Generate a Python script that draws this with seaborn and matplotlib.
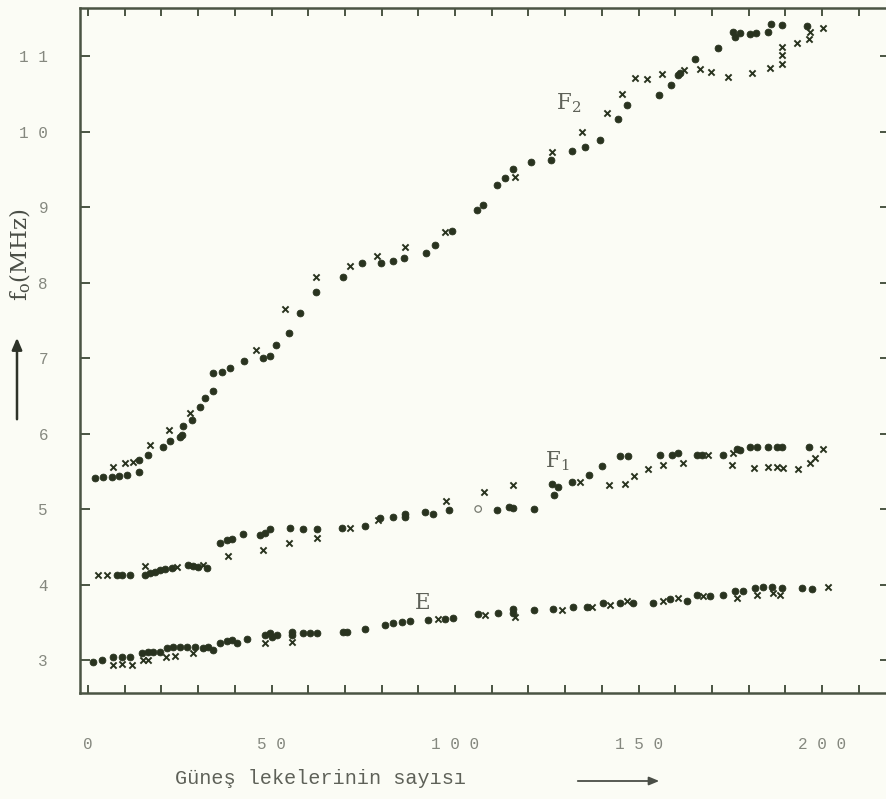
import numpy as np
import pandas as pd
import matplotlib
matplotlib.use("Agg")
import matplotlib.pyplot as plt
import seaborn as sns

# ---------------- data ----------------
# F2 layer
f2_dot_x = [2, 4, 6.5, 8.5, 10.5, 14, 14, 16.3, 20.4, 22.3, 25, 25.5, 26, 28.3, 30.5, 32, 34,
            34, 36.5, 38.7, 42.5, 47.7, 49.6, 51.2, 54.8, 57.8, 62, 69.5, 74.7, 79.8, 83.1, 86.1,
            92.1, 94.6, 99.2, 106, 107.6, 111.4, 113.6, 115.8, 120.7, 126.2, 131.9, 135.4, 139.5,
            144.4, 146.9, 155.6, 158.9, 160.8, 161.3, 165.4, 171.7, 175.7, 176.3, 177.7, 180.4,
            182, 185.3, 186.1, 189.1, 196]
f2_dot_y = [5.41, 5.42, 5.43, 5.44, 5.45, 5.65, 5.49, 5.72, 5.82, 5.90, 5.95, 5.98, 6.10, 6.18,
            6.35, 6.47, 6.56, 6.80, 6.81, 6.87, 6.96, 7.00, 7.03, 7.17, 7.33, 7.60, 7.87, 8.07,
            8.26, 8.26, 8.28, 8.32, 8.39, 8.50, 8.68, 8.96, 9.03, 9.29, 9.38, 9.50, 9.60, 9.62,
            9.74, 9.80, 9.89, 10.17, 10.35, 10.48, 10.62, 10.75, 10.77, 10.96, 11.10, 11.32,
            11.25, 11.30, 11.29, 11.30, 11.32, 11.42, 11.41, 11.40]
f2_cross_x = [6.8, 10, 12.3, 17, 22, 27.8, 45.8, 53.7, 62.1, 71.4, 78.7, 86.4, 97.3, 116.3,
              126.4, 134.6, 141.4, 145.5, 149, 152.3, 156.4, 162.4, 166.8, 169.8, 174.4, 181,
              185.8, 189.1, 189.1, 189.1, 193.2, 196.7, 196.5, 200.3]
f2_cross_y = [5.56, 5.61, 5.62, 5.85, 6.05, 6.27, 7.10, 7.65, 8.07, 8.22, 8.35, 8.47, 8.67, 9.40,
              9.73, 10.00, 10.25, 10.50, 10.71, 10.70, 10.76, 10.82, 10.83, 10.79, 10.72, 10.77,
              10.84, 11.12, 11.01, 10.89, 11.17, 11.32, 11.22, 11.37]

# F1 layer
f1_dot_x = [7.9, 9.3, 11.4, 15.5, 17, 18.3, 19.6, 21, 22.9, 27.2, 28.6, 30, 32.4, 36, 37.9,
            39.2, 42.2, 46.9, 48.2, 49.6, 55, 58.6, 62.4, 69.2, 75.5, 79.6, 83, 86.4, 86.4,
            91.8, 94, 98.4, 111.4, 114.7, 115.8, 121.5, 126.4, 128, 127, 131.9, 136.5, 140,
            145, 147, 155.9, 159, 160.8, 165.9, 167.3, 173, 176.8, 177.7, 180.4, 182.3, 185.3,
            187.7, 189.1, 196.5]
f1_dot_y = [4.13, 4.13, 4.13, 4.13, 4.15, 4.16, 4.19, 4.20, 4.22, 4.26, 4.24, 4.23, 4.22,
            4.55, 4.59, 4.60, 4.67, 4.66, 4.68, 4.73, 4.75, 4.73, 4.73, 4.75, 4.77, 4.88,
            4.89, 4.90, 4.93, 4.96, 4.93, 4.99, 4.99, 5.03, 5.01, 5.00, 5.33, 5.29, 5.19,
            5.36, 5.45, 5.57, 5.70, 5.70, 5.72, 5.72, 5.74, 5.72, 5.72, 5.72, 5.80, 5.78,
            5.82, 5.82, 5.82, 5.82, 5.82, 5.82]
f1_cross_x = [2.7, 5.2, 15.5, 24.3, 31.3, 38.2, 47.7, 54.8, 62.4, 71.4, 79, 97.5, 107.9, 115.8,
              134, 142, 146.3, 148.8, 152.6, 156.7, 162.1, 169, 175.7, 175.5, 181.5, 185.3,
              187.7, 189.4, 193.5, 196.7, 198.1, 200.3]
f1_cross_y = [4.13, 4.13, 4.25, 4.23, 4.26, 4.38, 4.46, 4.55, 4.62, 4.75, 4.86, 5.10, 5.23,
              5.32, 5.36, 5.32, 5.33, 5.44, 5.53, 5.58, 5.61, 5.72, 5.74, 5.58, 5.54, 5.56,
              5.56, 5.54, 5.53, 5.61, 5.68, 5.79]
f1_open_x = [106.3]
f1_open_y = [5.00]

# E layer
e_dot_x = [1.4, 3.8, 6.8, 9.3, 11.4, 14.7, 16.3, 17.7, 19.6, 21.5, 23.2, 25, 27, 29.2, 31.3,
           32.7, 34, 36, 37.9, 39.2, 40.6, 43.3, 48.2, 49.6, 50.1, 51.5, 55.6, 55.6, 58.6,
           60.5, 62.4, 69.5, 70.6, 75.5, 80.9, 83.1, 85.6, 87.7, 92.6, 97.3, 99.5, 106.3,
           111.7, 115.8, 115.8, 121.5, 126.7, 132.2, 136, 140.3, 145, 148.5, 154, 158.6,
           163.2, 165.9, 169.5, 173, 176.3, 178.5, 181.7, 183.9, 186.4, 189.1, 194.6, 197.3]
e_dot_y = [2.97, 3.00, 3.04, 3.04, 3.04, 3.09, 3.10, 3.10, 3.10, 3.16, 3.17, 3.17, 3.17,
           3.17, 3.16, 3.17, 3.13, 3.22, 3.25, 3.26, 3.22, 3.28, 3.33, 3.36, 3.30, 3.33,
           3.37, 3.33, 3.36, 3.36, 3.36, 3.37, 3.37, 3.41, 3.46, 3.49, 3.50, 3.52, 3.53,
           3.54, 3.56, 3.61, 3.62, 3.68, 3.62, 3.66, 3.68, 3.70, 3.70, 3.75, 3.75, 3.75,
           3.75, 3.81, 3.78, 3.86, 3.85, 3.86, 3.91, 3.91, 3.95, 3.97, 3.97, 3.95, 3.95, 3.94]
e_cross_x = [6.8, 9.3, 12, 15, 16.3, 21.3, 23.7, 28.6, 48.2, 55.6, 95.4, 108.2, 116.3, 129.2,
             137.3, 142.2, 146.9, 156.7, 160.8, 167.6, 176.8, 182.3, 186.6, 188.6, 201.6]
e_cross_y = [2.93, 2.95, 2.93, 3.00, 3.00, 3.04, 3.05, 3.09, 3.22, 3.24, 3.54, 3.60, 3.57,
             3.66, 3.70, 3.73, 3.78, 3.78, 3.82, 3.85, 3.82, 3.86, 3.89, 3.86, 3.97]

# tick labels
x_ticks = [0, 50, 100, 150, 200]
x_tick_labels = ["0", "5 0", "1 0 0", "1 5 0", "2 0 0"]
y_ticks = [3, 4, 5, 6, 7, 8, 9, 10, 11]
y_tick_labels = ["3", "4", "5", "6", "7", "8", "9", "1 0", "1 1"]

layer_labels = ["F", "F", "E"]
layer_subs = ["2", "1", ""]
layer_label_x = [127.5, 124.5, 89]
layer_label_y = [10.38, 5.63, 3.76]

# ---------------- figure ----------------
sns.set_theme(style="white")
plt.rcParams['font.family'] = ['Liberation Mono', 'DejaVu Sans Mono']
plt.rcParams['mathtext.fontset'] = 'dejavuserif'

bg = "#fbfcf5"
ink = "#29331f"
axis_col = "#4a5443"
label_col = "#85887f"

fig = plt.figure(figsize=(8.87, 7.99), dpi=100, facecolor=bg)
ax = fig.add_axes([80/887, 106/799, 810/887, 685/799])
ax.set_facecolor(bg)

def frame(xs, ys, kind):
    return pd.DataFrame({"x": xs, "y": ys, "kind": kind})

dots = pd.concat([frame(f2_dot_x, f2_dot_y, "dot"), frame(f1_dot_x, f1_dot_y, "dot"),
                  frame(e_dot_x, e_dot_y, "dot")], ignore_index=True)
crosses = pd.concat([frame(f2_cross_x, f2_cross_y, "cross"), frame(f1_cross_x, f1_cross_y, "cross"),
                     frame(e_cross_x, e_cross_y, "cross")], ignore_index=True)
opens = frame(f1_open_x, f1_open_y, "open")

sns.scatterplot(data=dots, x="x", y="y", ax=ax, marker="o", s=24, color=ink,
                edgecolor=ink, linewidth=0.6, legend=False, zorder=3)
sns.scatterplot(data=crosses, x="x", y="y", ax=ax, marker="x", s=20, color=ink,
                linewidth=1.4, legend=False, zorder=3)
sns.scatterplot(data=opens, x="x", y="y", ax=ax, marker="o", s=22, facecolor="none",
                edgecolor="#777a70", linewidth=0.9, legend=False, zorder=3)

ax.set_xlim(-2.18, 218.5)
ax.set_ylim(2.563, 11.636)

ax.set_xticks(x_ticks)
ax.set_xticklabels(x_tick_labels)
ax.set_xticks(np.arange(0, 220, 10), minor=True)
ax.set_yticks(y_ticks)
ax.set_yticklabels(y_tick_labels)

for side in ["left", "right", "top", "bottom"]:
    ax.spines[side].set_color(axis_col)
    ax.spines[side].set_linewidth(1.8)
ax.spines["right"].set_visible(False)

ax.tick_params(axis="both", which="both", direction="in", color=axis_col, width=1.4,
               top=True, right=True, bottom=True, left=True)
ax.tick_params(axis="x", which="major", length=6, pad=32, labelsize=11.5,
               labelcolor=label_col, labeltop=False)
ax.tick_params(axis="x", which="minor", length=6)
ax.tick_params(axis="y", which="major", length=7, pad=23, labelsize=11.5,
               labelcolor=label_col)
ax.set_xlabel("")
ax.set_ylabel("")

# curve labels
for lab, sub, lx, ly in zip(layer_labels, layer_subs, layer_label_x, layer_label_y):
    txt = lab if not sub else lab + r"$_{" + sub + "}$"
    ax.text(lx, ly, txt, fontsize=15.5, color="#5e6158", family="DejaVu Serif",
            ha="left", va="center")

# axis titles
fig.text(175/887, 1 - 778/799, "Güneş lekelerinin sayısı", fontsize=14.5,
         color="#5e6158", ha="left", va="center")
fig.patches.append(matplotlib.patches.FancyArrowPatch(
    (575/887, 1 - 781/799), (662/887, 1 - 781/799), transform=fig.transFigure,
    arrowstyle="-|>,head_length=6,head_width=2.5", color="#4a4e46", lw=1.3))

fig.text(20/887, 1 - 255/799, r"f$_{\rm o}$(MHz)", rotation=90, fontsize=16.5,
         color="#4a4e46", ha="center", va="center", family="DejaVu Serif")
fig.patches.append(matplotlib.patches.FancyArrowPatch(
    (17/887, 1 - 422/799), (17/887, 1 - 335/799), transform=fig.transFigure,
    arrowstyle="-|>,head_length=7,head_width=3", color="#2e3329", lw=1.8))

fig.savefig("out.png", dpi=100, facecolor=bg)
